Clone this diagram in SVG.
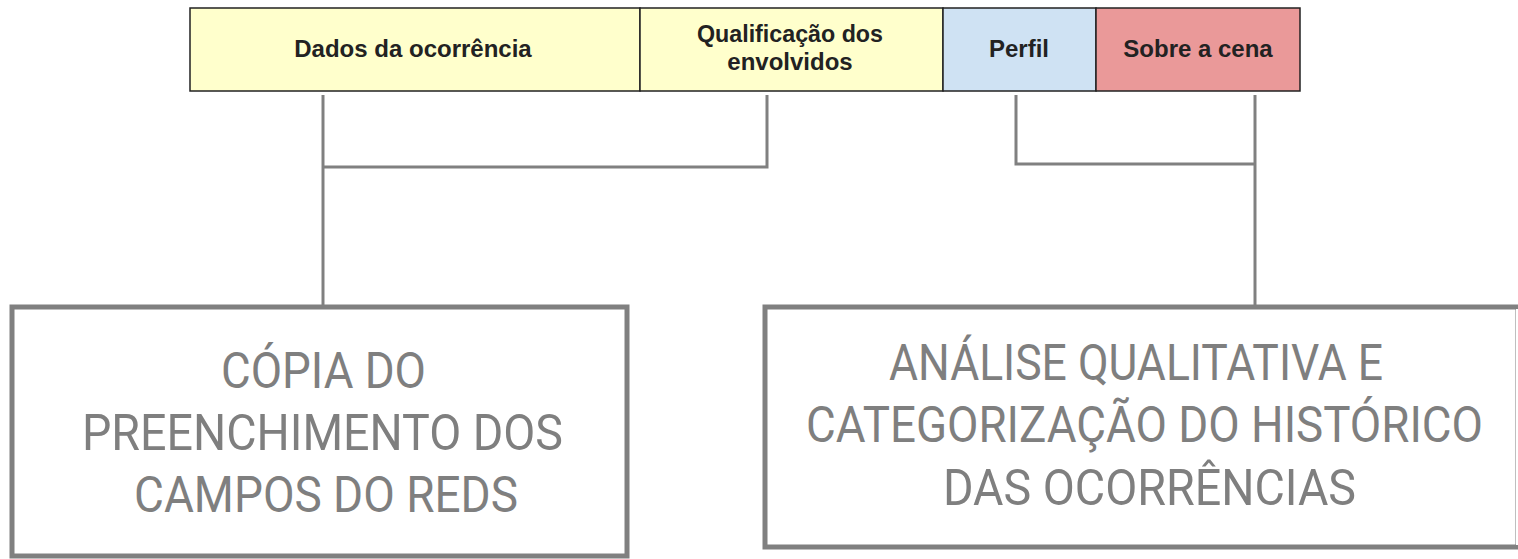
<svg xmlns="http://www.w3.org/2000/svg" width="1518" height="559" viewBox="0 0 1518 559">
<style>
.cell{stroke:#222;stroke-width:1.5}
.hdr{font-family:"Liberation Sans",Arial,sans-serif;font-weight:bold;font-size:24px;fill:#222;text-anchor:middle}
.box{fill:#fff;stroke:#808080;stroke-width:5}
.big{font-family:Roboto,"Liberation Sans",sans-serif;font-size:50px;fill:#7f7f7f}
.mid{text-anchor:middle}
.conn{fill:none;stroke:#808080;stroke-width:3}
</style>
<rect width="1518" height="559" fill="#fff"/>
<g id="bar">
<g id="n-dados"><rect class="cell" x="190" y="8" width="450" height="83" fill="#ffffcc"/><text class="hdr" x="413" y="57">Dados da ocorrência</text></g>
<g id="n-qualif"><rect class="cell" x="640" y="8" width="303" height="83" fill="#ffffcc"/><text class="hdr" x="790" y="42" textLength="186" lengthAdjust="spacingAndGlyphs">Qualificação dos</text><text class="hdr" x="790" y="70">envolvidos</text></g>
<g id="n-perfil"><rect class="cell" x="943" y="8" width="153" height="83" fill="#cfe2f3"/><text class="hdr" x="1019" y="57">Perfil</text></g>
<g id="n-cena"><rect class="cell" x="1096" y="8" width="204" height="83" fill="#ea9999"/><text class="hdr" x="1198" y="57">Sobre a cena</text></g>
</g>
<g id="connectors">
<polyline class="conn" points="767,95 767,167 323,167"/>
<line class="conn" x1="323" y1="95" x2="323" y2="306"/>
<polyline class="conn" points="1016,95 1016,164 1255,164"/>
<line class="conn" x1="1255" y1="95" x2="1255" y2="307"/>
</g>
<g id="n-copia">
<rect class="box" x="12" y="307" width="615" height="249"/>
<text class="big mid" x="323.5" y="388" textLength="205" lengthAdjust="spacingAndGlyphs">CÓPIA DO</text>
<text class="big mid" x="322.5" y="450" textLength="481" lengthAdjust="spacingAndGlyphs">PREENCHIMENTO DOS</text>
<text class="big mid" x="326" y="512" textLength="384" lengthAdjust="spacingAndGlyphs">CAMPOS DO REDS</text>
</g>
<g id="n-analise">
<path class="box" d="M1518,307 H765 V547 H1518 Z" stroke-linejoin="miter"/>
<rect x="1516" y="309" width="2" height="236" fill="#fff"/>
<text class="big mid" x="1136" y="380" textLength="494" lengthAdjust="spacingAndGlyphs">ANÁLISE QUALITATIVA E</text>
<text class="big mid" transform="translate(1144.5,442) scale(1,1.1111)" x="0" y="0" style="font-size:45px" textLength="677" lengthAdjust="spacingAndGlyphs">CATEGORIZAÇÃO DO HISTÓRICO</text>
<text class="big mid" x="1149.5" y="505" textLength="413" lengthAdjust="spacingAndGlyphs">DAS OCORRÊNCIAS</text>
</g>
</svg>
